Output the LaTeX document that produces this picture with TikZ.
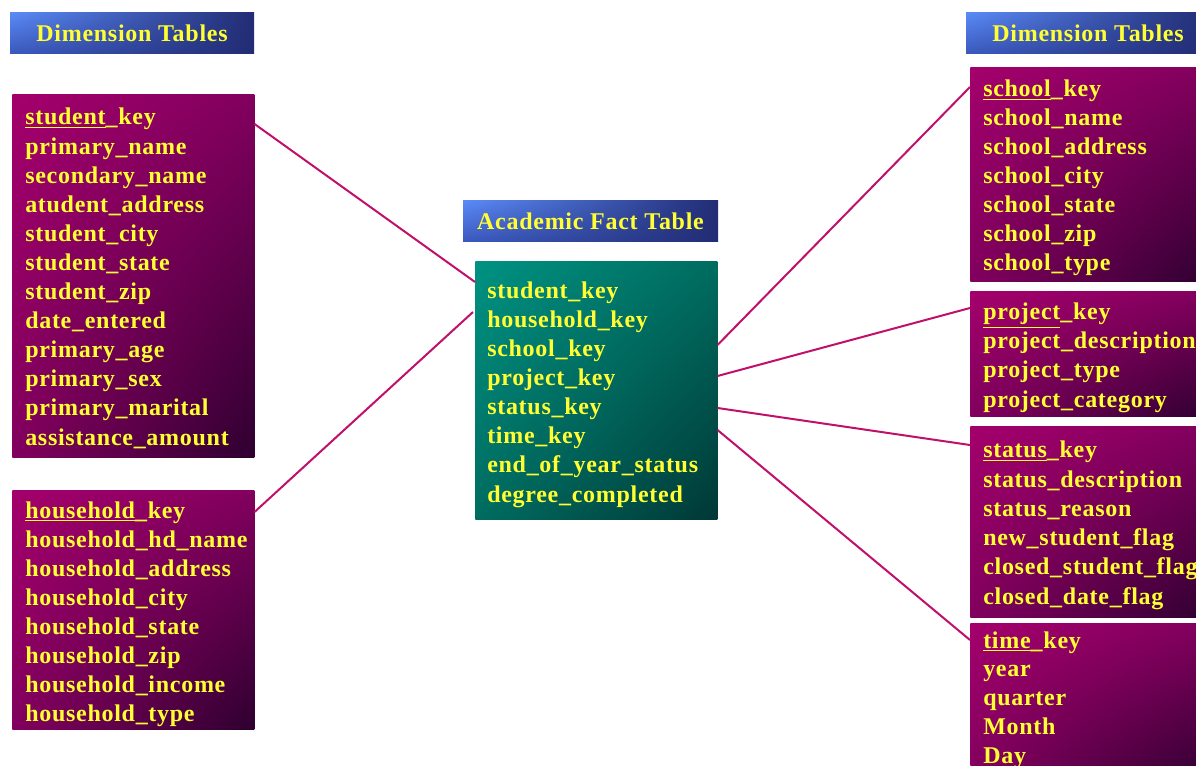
\documentclass[tikz,border=0pt]{standalone}
\usepackage{fontspec}
\setmainfont{Liberation Serif}[LetterSpace=3]
\usetikzlibrary{calc,shadings}
\definecolor{fieldyellow}{HTML}{FFFF33}
\definecolor{magA}{HTML}{A4006C}
\definecolor{magB}{HTML}{82005E}
\definecolor{magC}{HTML}{2E0030}
\definecolor{tealA}{HTML}{009282}
\definecolor{tealB}{HTML}{006C60}
\definecolor{tealC}{HTML}{003836}
\definecolor{blueA}{HTML}{5A8AF6}
\definecolor{blueB}{HTML}{3A58BC}
\definecolor{blueC}{HTML}{222C74}
\definecolor{linkcol}{HTML}{C0106A}
\begin{document}
\begin{tikzpicture}[x=0.75pt,y=-0.75pt,
  dimbox/.style={anchor=north west, inner sep=0pt, minimum width=180pt,
    shade, shading=bilinear interpolation, upper left=magA, upper right=magB, lower left=magB, lower right=magC},
  factbox/.style={anchor=north west, inner sep=0pt, minimum width=181.5pt,
    shade, shading=bilinear interpolation, upper left=tealA, upper right=tealB, lower left=tealB, lower right=tealC},
  headbox/.style={inner sep=0pt, minimum height=30.75pt, text=fieldyellow,
    font=\bfseries\fontsize{18}{20}\selectfont,
    shade, shading=bilinear interpolation, upper left=blueA, upper right=blueC, lower left=blueB, lower right=blueC},
  field/.style={anchor=base west, inner sep=0pt, text=fieldyellow,
    font=\bfseries\fontsize{18}{20}\selectfont},
  link/.style={draw=linkcol, line width=1.5pt}]
\useasboundingbox (0,0) rectangle (1196,766);
\fill[white] (0,0) rectangle (1196,766);
\clip (0,0) rectangle (1196,766);

% headers
\node[headbox, minimum width=183pt] (headL) at (132,33.5) {Dimension Tables};
\node[headbox, minimum width=191.25pt] (headF) at (590.5,221.5) {Academic Fact Table};
\node[headbox, minimum width=183pt] (headR) at (1088,33.5) {Dimension Tables};

% boxes
\node[dimbox, minimum width=181.5pt, minimum height=272.25pt] (student) at (12,94) {};
\node[dimbox, minimum width=181.5pt, minimum height=179.25pt] (household) at (12,490) {};
\node[factbox, minimum height=193.5pt] (fact) at (475,261) {};
\node[dimbox, minimum height=160.5pt] (school) at (970,67) {};
\node[dimbox, minimum height=93.75pt] (project) at (970,291) {};
\node[dimbox, minimum height=143.25pt] (status) at (970,426) {};
\node[dimbox, minimum height=117.75pt] (time) at (970,623) {};

% fields
\foreach \t [count=\i] in {\underline{student}\_key, primary\_name, secondary\_name,
  atudent\_address, student\_city, student\_state, student\_zip, date\_entered,
  primary\_age, primary\_sex, primary\_marital, assistance\_amount}
  \node[field] (stu-\i) at (25,{125+(\i-1)*29.1}) {\t};

\foreach \t [count=\i] in {\underline{household}\_key, household\_hd\_name,
  household\_address, household\_city, household\_state, household\_zip,
  household\_income, household\_type}
  \node[field] (hh-\i) at (25,{518+(\i-1)*29}) {\t};

\foreach \t [count=\i] in {student\_key, household\_key, school\_key, project\_key,
  status\_key, time\_key, end\_of\_year\_status, degree\_completed}
  \node[field] (fa-\i) at (487,{299+(\i-1)*29}) {\t};

\foreach \t [count=\i] in {\underline{school}\_key, school\_name, school\_address,
  school\_city, school\_state, school\_zip, school\_type}
  \node[field] (sc-\i) at (983,{97+(\i-1)*29}) {\t};

\foreach \t [count=\i] in {\underline{project}\_key, project\_description,
  project\_type, project\_category}
  \node[field] (pr-\i) at (983,{320+(\i-1)*29}) {\t};

\foreach \t [count=\i] in {\underline{status}\_key, status\_description,
  status\_reason, new\_student\_flag, closed\_student\_flag, closed\_date\_flag}
  \node[field] (st-\i) at (983,{458+(\i-1)*29.2}) {\t};

\foreach \t [count=\i] in {\underline{time}\_key, year, quarter, Month, Day}
  \node[field] (ti-\i) at (983,{648+(\i-1)*28.8}) {\t};

% connectors
\draw[link] ($(student.north east)+(0,30)$) -- ($(fact.north west)+(0,21)$);
\draw[link] ($(household.north east)+(0,22)$) -- ($(fact.north west)+(-2,51)$);
\draw[link] ($(fact.north east)+(0,84)$) -- ($(school.north west)+(0,20)$);
\draw[link] ($(fact.north east)+(0,115)$) -- ($(project.north west)+(0,17)$);
\draw[link] ($(fact.north east)+(0,147)$) -- ($(status.north west)+(0,19)$);
\draw[link] ($(fact.north east)+(0,169)$) -- ($(time.north west)+(0,17)$);
\end{tikzpicture}
\end{document}
